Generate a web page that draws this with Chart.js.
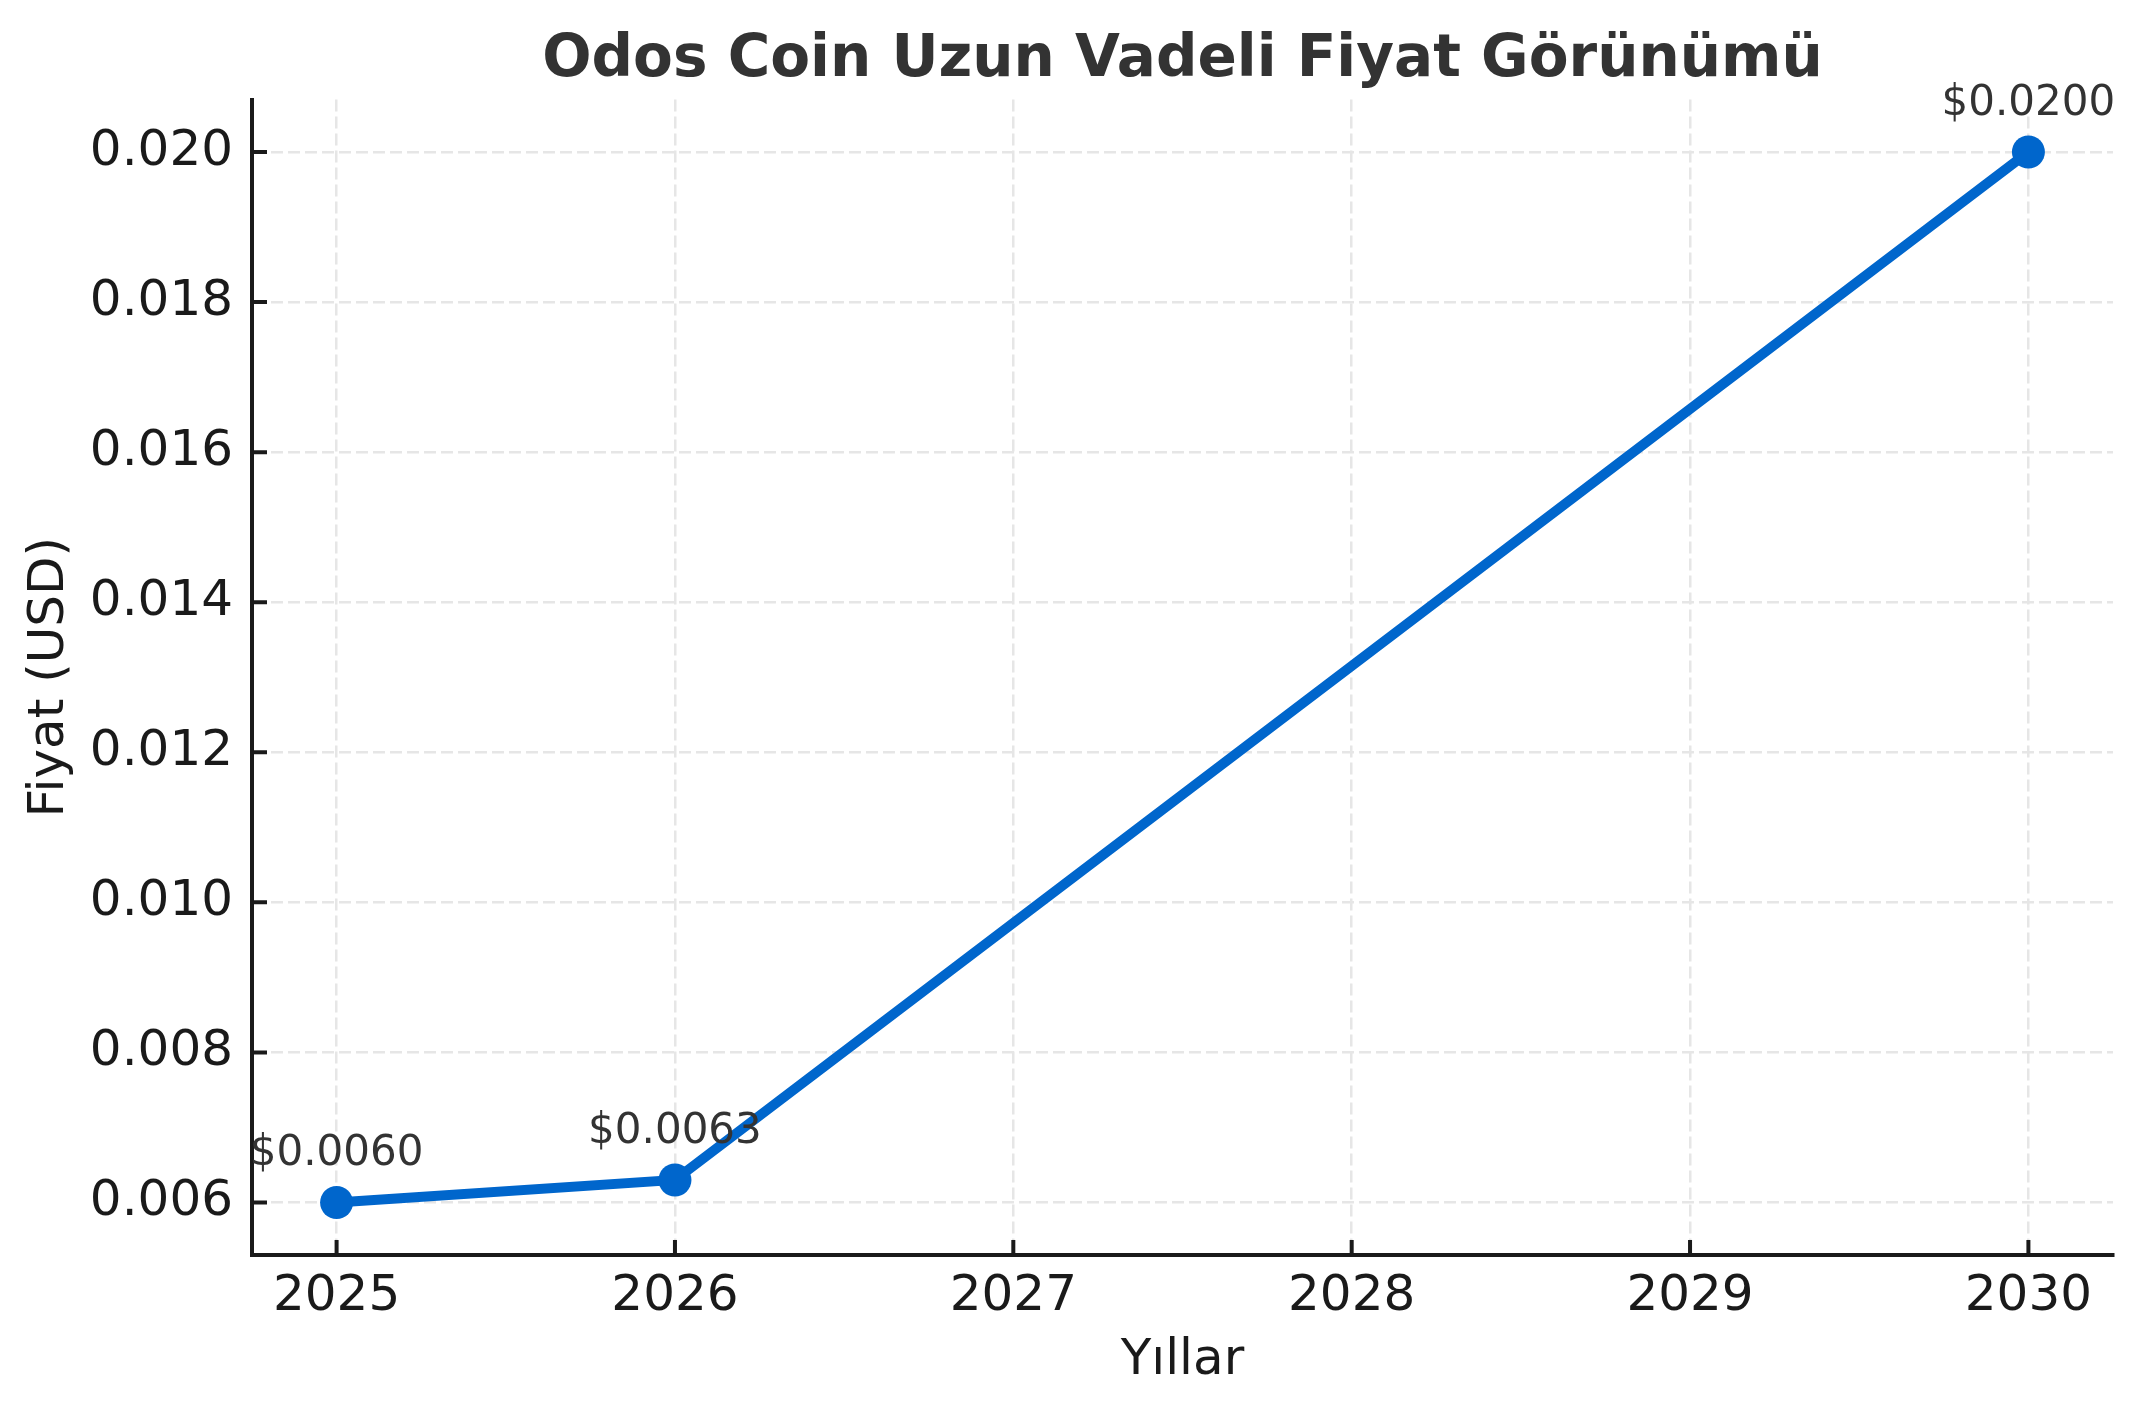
<!DOCTYPE html>
<html>
<head>
<meta charset="utf-8">
<title>Odos Coin Uzun Vadeli Fiyat Görünümü</title>
<script src="https://cdn.jsdelivr.net/npm/chart.js@4/dist/chart.umd.min.js"></script>
<style>
  html, body { margin: 0; padding: 0; background: #fff; }
  canvas { display: block; }
</style>
</head>
<body>
<canvas id="canvas" width="2143" height="1412"></canvas>
<script>
// data
var years = [2025, 2026, 2030];
var prices = [0.0060, 0.0063, 0.0200];
var xTickValues = [2025, 2026, 2027, 2028, 2029, 2030];
var yTickValues = [0.006, 0.008, 0.010, 0.012, 0.014, 0.016, 0.018, 0.020];
var chartTitle = 'Odos Coin Uzun Vadeli Fiyat Görünümü';

var lineColor = '#0066cc';
var axisColor = '#1a1a1a';

// "$0.0060" style labels above every point
var pointLabels = {
    id: 'pointLabels',
    afterDatasetsDraw: function(chart) {
        var ctx = chart.ctx;
        var meta = chart.getDatasetMeta(0);
        ctx.save();
        ctx.fillStyle = '#333333';
        ctx.font = '42px "DejaVu Sans"';
        ctx.textAlign = 'center';
        ctx.textBaseline = 'alphabetic';
        meta.data.forEach(function(pt, i) {
            ctx.fillText('$' + prices[i].toFixed(4), pt.x, pt.y - 37);
        });
        ctx.restore();
    }
};

// matplotlib style ticks pointing into the plot, title centred on the plot area
var innerTicks = {
    id: 'innerTicks',
    afterDraw: function(chart) {
        var ctx = chart.ctx;
        var area = chart.chartArea;
        var xs = chart.scales.x, ys = chart.scales.y;
        var len = 15;
        ctx.save();
        ctx.strokeStyle = axisColor;
        ctx.lineWidth = 4;
        ctx.beginPath();
        yTickValues.forEach(function(v) {
            var y = ys.getPixelForValue(v);
            ctx.moveTo(area.left, y);
            ctx.lineTo(area.left + len, y);
        });
        xTickValues.forEach(function(v) {
            var x = xs.getPixelForValue(v);
            ctx.moveTo(x, area.bottom);
            ctx.lineTo(x, area.bottom - len);
        });
        ctx.stroke();

        ctx.fillStyle = '#333333';
        ctx.font = 'bold 58px "DejaVu Sans"';
        ctx.textAlign = 'center';
        ctx.textBaseline = 'alphabetic';
        ctx.fillText(chartTitle, (area.left + area.right) / 2, 76);
        ctx.restore();
    }
};

window.onload = function() {
    var ctx = document.getElementById('canvas').getContext('2d');
    var points = [];
    for (var i = 0; i < years.length; i++) {
        points.push({x: years[i], y: prices[i]});
    }

    window.myLine = new Chart(ctx, {
        type: 'line',
        data: {
            datasets: [{
                data: points,
                borderColor: lineColor,
                backgroundColor: lineColor,
                borderWidth: 10,
                tension: 0,
                fill: false,
                pointRadius: 16.5,
                pointHoverRadius: 16.5,
                pointBorderWidth: 0,
                pointBackgroundColor: lineColor
            }]
        },
        plugins: [pointLabels, innerTicks],
        options: {
            responsive: false,
            animation: false,
            devicePixelRatio: 1,
            layout: { padding: { top: 99.5, right: 30, bottom: 0, left: 0 } },
            plugins: {
                legend: { display: false },
                tooltip: { enabled: false },
                title: { display: false }
            },
            scales: {
                x: {
                    type: 'linear',
                    min: 2024.75,
                    max: 2030.25,
                    afterFit: function(scale) { scale.height = 157; },
                    afterBuildTicks: function(scale) {
                        scale.ticks = xTickValues.map(function(v) { return {value: v}; });
                    },
                    ticks: {
                        color: axisColor,
                        padding: 12,
                        maxRotation: 0,
                        font: { family: 'DejaVu Sans', size: 50 },
                        callback: function(v) { return String(v); }
                    },
                    grid: { color: '#e6e6e6', lineWidth: 2.5, drawTicks: false },
                    border: { display: true, color: axisColor, width: 4, dash: [12, 5] },
                    title: {
                        display: true,
                        text: 'Yıllar',
                        color: axisColor,
                        font: { family: 'DejaVu Sans', size: 50, lineHeight: 1.2 },
                        padding: { top: 0, bottom: 21 }
                    }
                },
                y: {
                    type: 'linear',
                    min: 0.0053,
                    max: 0.0207,
                    afterFit: function(scale) { scale.width = 252; },
                    afterBuildTicks: function(scale) {
                        scale.ticks = yTickValues.map(function(v) { return {value: v}; });
                    },
                    ticks: {
                        color: axisColor,
                        padding: 19,
                        font: { family: 'DejaVu Sans', size: 50 },
                        callback: function(v) { return v.toFixed(3); }
                    },
                    grid: { color: '#e6e6e6', lineWidth: 2.5, drawTicks: false },
                    border: { display: true, color: axisColor, width: 4, dash: [12, 5] },
                    title: {
                        display: true,
                        text: 'Fiyat (USD)',
                        color: axisColor,
                        font: { family: 'DejaVu Sans', size: 50, lineHeight: 1.2 },
                        padding: { top: 20, bottom: 0 }
                    }
                }
            }
        }
    });
};
</script>
</body>
</html>
